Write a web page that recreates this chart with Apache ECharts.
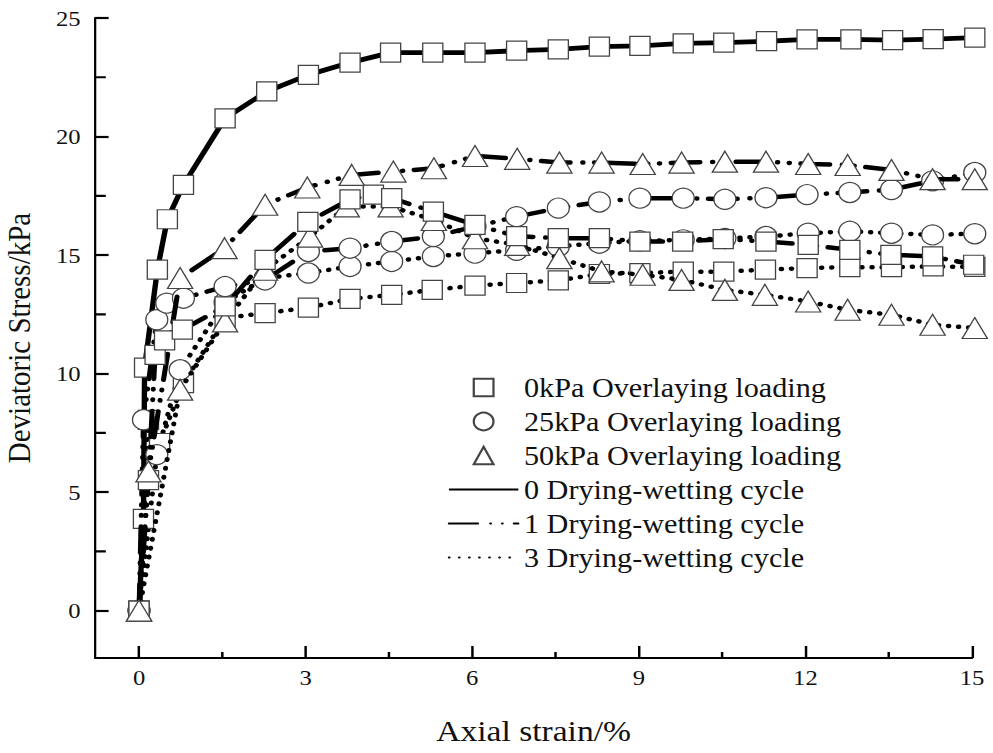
<!DOCTYPE html>
<html><head><meta charset="utf-8">
<script src="https://cdn.jsdelivr.net/npm/echarts@6/dist/echarts.min.js"></script>
<style>
html,body{margin:0;padding:0;background:#fff;overflow:hidden}
#wrap{width:993px;height:753px;overflow:hidden}
#chart{width:887px;height:753px;transform:scaleX(1.1195);transform-origin:0 0}
</style>
</head><body><div id="wrap"><div id="chart"></div></div>
<script>
// ---- axis range and tick labels ----
const X_MIN = -0.79, X_MAX = 15, Y_MIN = -2, Y_MAX = 25;
const xTickLabels = [0, 3, 6, 9, 12, 15];
const xMinorTicks = [1.5, 4.5, 7.5, 10.5, 13.5];
const yTickLabels = [0, 5, 10, 15, 20, 25];
const yMinorTicks = [2.5, 7.5, 12.5, 17.5, 22.5];

// ---- legend names ----
const loadNames = ['0kPa Overlaying loading', '25kPa Overlaying loading', '50kPa Overlaying loading'];
const cycleNames = ['0 Drying-wetting cycle', '1 Drying-wetting cycle', '3 Drying-wetting cycle'];

// ---- 0kPa, 0 cycle ----
const strain0kPa0 = [0, 0.08, 0.1, 0.33, 0.51, 0.8, 1.55, 2.3, 3.05, 3.8, 4.53, 5.29, 6.05, 6.8, 7.55, 8.29, 9.02, 9.8, 10.53, 11.3, 12.03, 12.82, 13.57, 14.3, 15.05];
const stress0kPa0 = [0, 3.87, 10.25, 14.38, 16.51, 17.96, 20.77, 21.9, 22.6, 23.12, 23.54, 23.54, 23.54, 23.62, 23.68, 23.79, 23.82, 23.93, 23.96, 24.02, 24.1, 24.1, 24.07, 24.11, 24.17];
// ---- 0kPa, 1 cycle ----
const strain0kPa1 = [0, 0.17, 0.29, 0.46, 0.78, 1.55, 2.27, 3.04, 3.8, 4.22, 4.55, 5.3, 6.05, 6.8, 7.55, 8.29, 9.02, 9.79, 10.52, 11.29, 12.05, 12.8, 13.54, 14.29, 15.03];
const stress0kPa1 = [0, 5.5, 10.79, 11.4, 11.85, 12.83, 14.8, 16.4, 17.35, 17.55, 17.4, 16.83, 16.27, 15.8, 15.71, 15.71, 15.57, 15.57, 15.67, 15.57, 15.43, 15.22, 15.01, 14.94, 14.59];
// ---- 0kPa, 3 cycles ----
const strain0kPa3 = [0, 0.17, 0.37, 0.8, 1.55, 2.27, 3.05, 3.8, 4.55, 5.28, 6.05, 6.8, 7.55, 8.29, 9.02, 9.8, 10.53, 11.28, 12.03, 12.8, 13.55, 14.3, 15.05];
const stress0kPa3 = [0, 8.05, 7.07, 9.6, 12.35, 12.55, 12.78, 13.15, 13.32, 13.53, 13.71, 13.82, 13.93, 14.2, 14.24, 14.3, 14.3, 14.38, 14.45, 14.49, 14.49, 14.52, 14.5];
// ---- 25kPa, 1 cycle ----
const strain25kPa1 = [0, 0.08, 0.32, 0.5, 0.8, 1.55, 2.27, 3.05, 3.8, 4.55, 5.3, 6.05, 6.8, 7.55, 8.29, 9.02, 9.8, 10.55, 11.29, 12.03, 12.8, 13.55, 14.29, 15.05];
const stress25kPa1 = [0, 8.05, 12.27, 12.97, 13.18, 13.67, 13.95, 15.15, 15.29, 15.57, 15.78, 16.2, 16.62, 16.98, 17.24, 17.4, 17.4, 17.35, 17.42, 17.55, 17.64, 17.76, 18.13, 18.48];
// ---- 25kPa, 3 cycles ----
const strain25kPa3 = [0, 0.32, 0.74, 1.55, 2.27, 3.05, 3.8, 4.55, 5.3, 6.05, 6.8, 7.55, 8.29, 9.02, 9.8, 10.55, 11.29, 12.05, 12.8, 13.55, 14.29, 15.05];
const stress25kPa3 = [0, 6.58, 10.16, 13.0, 14.03, 14.24, 14.52, 14.73, 14.94, 15.08, 15.2, 15.36, 15.5, 15.6, 15.64, 15.7, 15.78, 15.92, 16.0, 15.92, 15.85, 15.9];
// ---- 50kPa, 1 cycle ----
const strain50kPa1 = [0, 0.17, 0.74, 1.54, 2.27, 3.03, 3.83, 4.58, 5.31, 6.05, 6.81, 7.57, 8.33, 9.07, 9.77, 10.55, 11.29, 12.05, 12.76, 13.55, 14.29, 15.05];
const stress50kPa1 = [0, 5.87, 14.03, 15.29, 17.12, 17.85, 18.38, 18.52, 18.66, 19.18, 19.06, 18.9, 18.9, 18.84, 18.9, 18.94, 18.94, 18.84, 18.8, 18.59, 18.2, 18.2];
// ---- 50kPa, 3 cycles ----
const strain50kPa3 = [0, 0.74, 1.55, 2.27, 3.08, 3.74, 4.53, 5.31, 6.05, 6.81, 7.57, 8.33, 9.07, 9.77, 10.55, 11.27, 12.05, 12.76, 13.55, 14.29, 15.05];
const stress50kPa3 = [0, 9.32, 12.2, 14.38, 15.78, 17.05, 17.05, 16.48, 15.71, 15.43, 14.87, 14.31, 14.17, 13.95, 13.53, 13.32, 13.04, 12.69, 12.48, 12.06, 11.92];

const FONT = '"Liberation Serif", "Times New Roman", serif';
const symbolOf = { sq: 'rect', ci: 'circle', tr: 'triangle' };
const sizeOf = { sq: [18, 19], ci: [19.6, 20], tr: [22.5, 21] };
const lineOf = {
  solid: { type: 'solid', width: 4.8, cap: 'butt' },
  dash: { type: [26, 11, 0.5, 10, 0.5, 10], width: 4.5, cap: 'round' },
  dot: { type: [0.5, 8.5], width: 4.5, cap: 'round' }
};
const markerStyle = { color: '#fff', borderColor: '#444', borderWidth: 1.2 };

function zip(a, b) { return a.map((v, i) => [v, b[i]]); }
function dataSeries(name, strain, stress, mk, ln, z) {
  return {
    name: name, type: 'line', data: zip(strain, stress),
    symbol: symbolOf[mk], symbolSize: sizeOf[mk], showAllSymbol: true,
    itemStyle: markerStyle,
    lineStyle: Object.assign({ color: '#000' }, lineOf[ln]),
    clip: false, z: z, animation: false, silent: true
  };
}

const series = [
  dataSeries('s0-0', strain0kPa0, stress0kPa0, 'sq', 'solid', 2),
  dataSeries('s0-3', strain0kPa3, stress0kPa3, 'sq', 'dot', 2),
  dataSeries('s25-3', strain25kPa3, stress25kPa3, 'ci', 'dot', 2),
  dataSeries('s25-1', strain25kPa1, stress25kPa1, 'ci', 'dash', 3),
  dataSeries('s50-3', strain50kPa3, stress50kPa3, 'tr', 'dot', 3),
  dataSeries('s0-1', strain0kPa1, stress0kPa1, 'sq', 'dash', 4),
  dataSeries('s50-1', strain50kPa1, stress50kPa1, 'tr', 'dash', 4)
];
// legend-only series
['sq', 'ci', 'tr'].forEach((mk, i) => series.push({
  name: loadNames[i], type: 'line', data: [], symbol: symbolOf[mk],
  itemStyle: markerStyle, lineStyle: { width: 0, color: 'rgba(0,0,0,0)' }
}));
['solid', 'dash', 'dot'].forEach((ln, i) => series.push({
  name: cycleNames[i], type: 'line', data: [], symbol: 'none',
  itemStyle: { color: 'rgba(0,0,0,0)', borderWidth: 0 },
  lineStyle: Object.assign({ color: '#000' }, lineOf[ln])
}));

// shorter inward minor ticks, drawn as short segments in data space
const PX_PER_X = (887 - 85 - 18.75) / (X_MAX - X_MIN);
const PX_PER_Y = (753 - 18 - 95) / (Y_MAX - Y_MIN);
function minorTickSeries(values, isX, lenPx) {
  const data = [];
  values.forEach(v => {
    if (isX) { data.push([v, Y_MIN], [v, Y_MIN + lenPx / PX_PER_Y], [v, '-']); }
    else { data.push([X_MIN, v], [X_MIN + lenPx / PX_PER_X, v], ['-', v]); }
  });
  return {
    type: 'line', data: data, symbol: 'none', showSymbol: false,
    connectNulls: false, clip: false, silent: true, z: 10, animation: false,
    lineStyle: { color: '#000', width: 2.2, type: 'solid' }
  };
}
series.push(minorTickSeries(xMinorTicks, true, 6));
series.push(minorTickSeries(yMinorTicks, false, 9.5));

const axisText = { fontFamily: FONT, fontSize: 22, color: '#111' };
const option = {
  backgroundColor: '#fff',
  animation: false,
  grid: { left: 85, right: 18.75, top: 18, bottom: 95, containLabel: false, outerBoundsMode: 'none' },
  legend: {
    data: loadNames.concat(cycleNames),
    orient: 'vertical', left: 400, top: 374, padding: 0,
    itemWidth: 62, itemHeight: 22, itemGap: 7,
    textStyle: { fontFamily: FONT, fontSize: 27, color: '#111' },
    selectedMode: false
  },
  xAxis: {
    type: 'value', min: X_MIN, max: X_MAX,
    name: 'Axial strain/%', nameLocation: 'middle', nameGap: 58,
    nameTextStyle: { fontFamily: FONT, fontSize: 30, color: '#111' },
    axisLine: { show: true, onZero: false, lineStyle: { color: '#000', width: 2 } },
    axisTick: { show: true, inside: true, length: 12, customValues: xTickLabels, lineStyle: { color: '#000', width: 2.2 } },
    axisLabel: { customValues: xTickLabels, margin: 8, ...axisText },
    splitLine: { show: false }
  },
  yAxis: {
    type: 'value', min: Y_MIN, max: Y_MAX,
    name: 'Deviatoric Stress/kPa', nameLocation: 'middle', nameGap: 53,
    nameTextStyle: { fontFamily: FONT, fontSize: 29, color: '#111' },
    axisLine: { show: true, onZero: false, lineStyle: { color: '#000', width: 2 } },
    axisTick: { show: true, inside: true, length: 12, customValues: yTickLabels, lineStyle: { color: '#000', width: 2.2 } },
    axisLabel: { customValues: yTickLabels, margin: 13, ...axisText },
    splitLine: { show: false }
  },
  series: series
};
const chart = echarts.init(document.getElementById('chart'), null, { renderer: 'svg' });
chart.setOption(option);
</script>
</body></html>
